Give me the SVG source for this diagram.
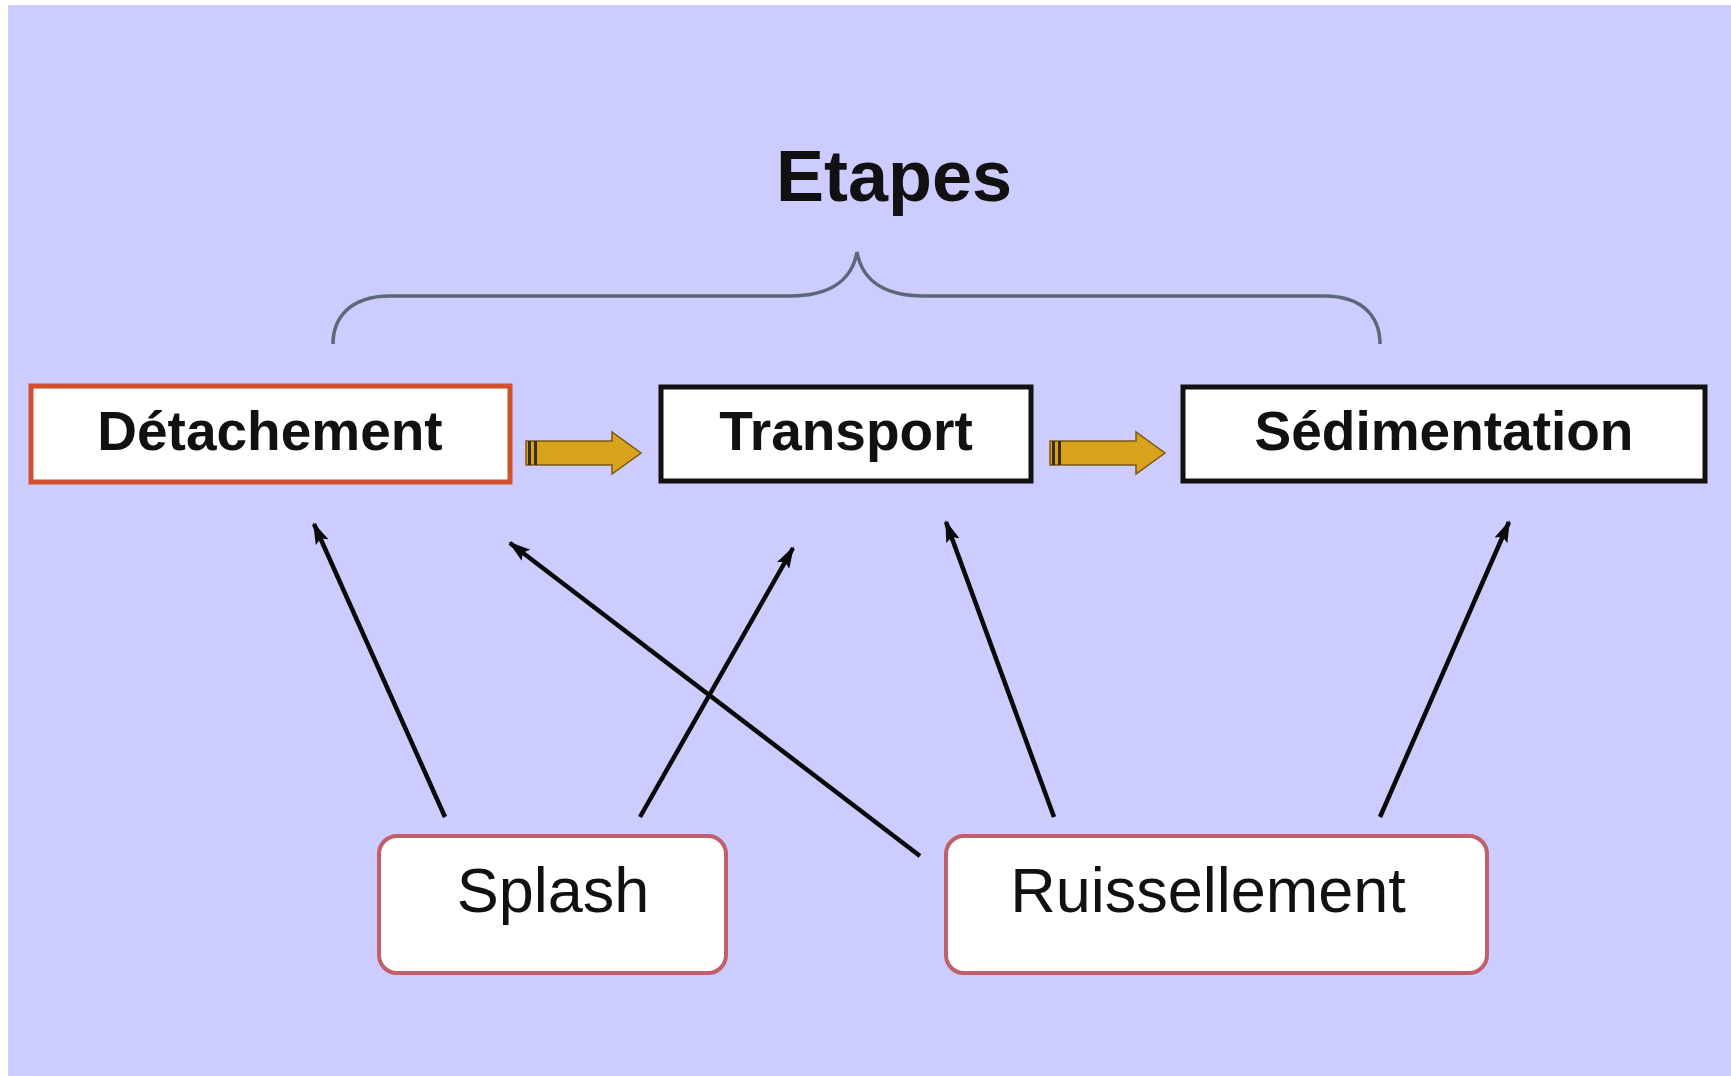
<svg xmlns="http://www.w3.org/2000/svg" width="1731" height="1076" viewBox="0 0 1731 1076">
<style>
.bg{fill:#ffffff}
.lav{fill:#CCCCFF}
.step{fill:#ffffff;stroke-width:5}
.stext{font-family:"Liberation Sans",Arial,sans-serif;font-weight:bold;font-size:55px;fill:#111111;text-anchor:middle}
.src{fill:#ffffff;stroke:#C0606A;stroke-width:4}
.srctext{font-family:"Liberation Sans",Arial,sans-serif;font-size:63px;fill:#111111;text-anchor:middle}
.conn{stroke:#0a0a0a;stroke-width:4.5;fill:none;marker-end:url(#ah)}
.fat{fill:#D9A21C;stroke:#7a5a10;stroke-width:1.5}
</style>
<defs>
<marker id="ah" viewBox="0 0 22 14" refX="20" refY="7" markerWidth="22" markerHeight="14" markerUnits="userSpaceOnUse" orient="auto">
<path d="M0,0 L22,7 L0,14 L4,7 Z" fill="#0a0a0a"/>
</marker>
<g id="fatArrow">
<path class="fat" d="M0,-12 L86,-12 L86,-21 L115,0 L86,21 L86,12 L0,12 Z"/>
<rect x="2" y="-12" width="3" height="24" fill="#3a3010"/>
<rect x="8" y="-12" width="3" height="24" fill="#3a3010"/>
</g>
</defs>
<rect class="bg" x="0" y="0" width="1731" height="1076"/>
<rect class="lav" x="8" y="5" width="1723" height="1071"/>

<text x="894" y="201" font-family="'Liberation Sans',Arial,sans-serif" font-weight="bold" font-size="72" fill="#111111" text-anchor="middle">Etapes</text>
<path d="M333,344 C333,318 350,296 390,296 L790,296 C830,296 852,280 857,252 C862,280 884,296 924,296 L1324,296 C1364,296 1380,318 1380,344" fill="none" stroke="#5a6878" stroke-width="3.5"/>

<g id="detachement">
<rect class="step" x="31" y="386" width="479" height="96" stroke="#D2502C"/>
<text class="stext" x="270" y="450">Détachement</text>
</g>
<g id="transport">
<rect class="step" x="661" y="387" width="370" height="94" stroke="#111111"/>
<text class="stext" x="846" y="450">Transport</text>
</g>
<g id="sedimentation">
<rect class="step" x="1183" y="387" width="522" height="94" stroke="#111111"/>
<text class="stext" x="1444" y="450">Sédimentation</text>
</g>
<g id="splash">
<rect class="src" x="379" y="836" width="347" height="137" rx="18"/>
<text class="srctext" x="553" y="912">Splash</text>
</g>
<g id="ruissellement">
<rect class="src" x="946" y="836" width="541" height="137" rx="18"/>
<text class="srctext" x="1208" y="912">Ruissellement</text>
</g>

<g id="connectors">
<use href="#fatArrow" x="526" y="453"/>
<use href="#fatArrow" x="1050" y="453"/>
<line class="conn" x1="445" y1="817" x2="314" y2="524"/>
<line class="conn" x1="640" y1="817" x2="793" y2="548"/>
<line class="conn" x1="920" y1="856" x2="510" y2="543"/>
<line class="conn" x1="1054" y1="817" x2="946" y2="522"/>
<line class="conn" x1="1380" y1="817" x2="1509" y2="522"/>
</g>
</svg>
